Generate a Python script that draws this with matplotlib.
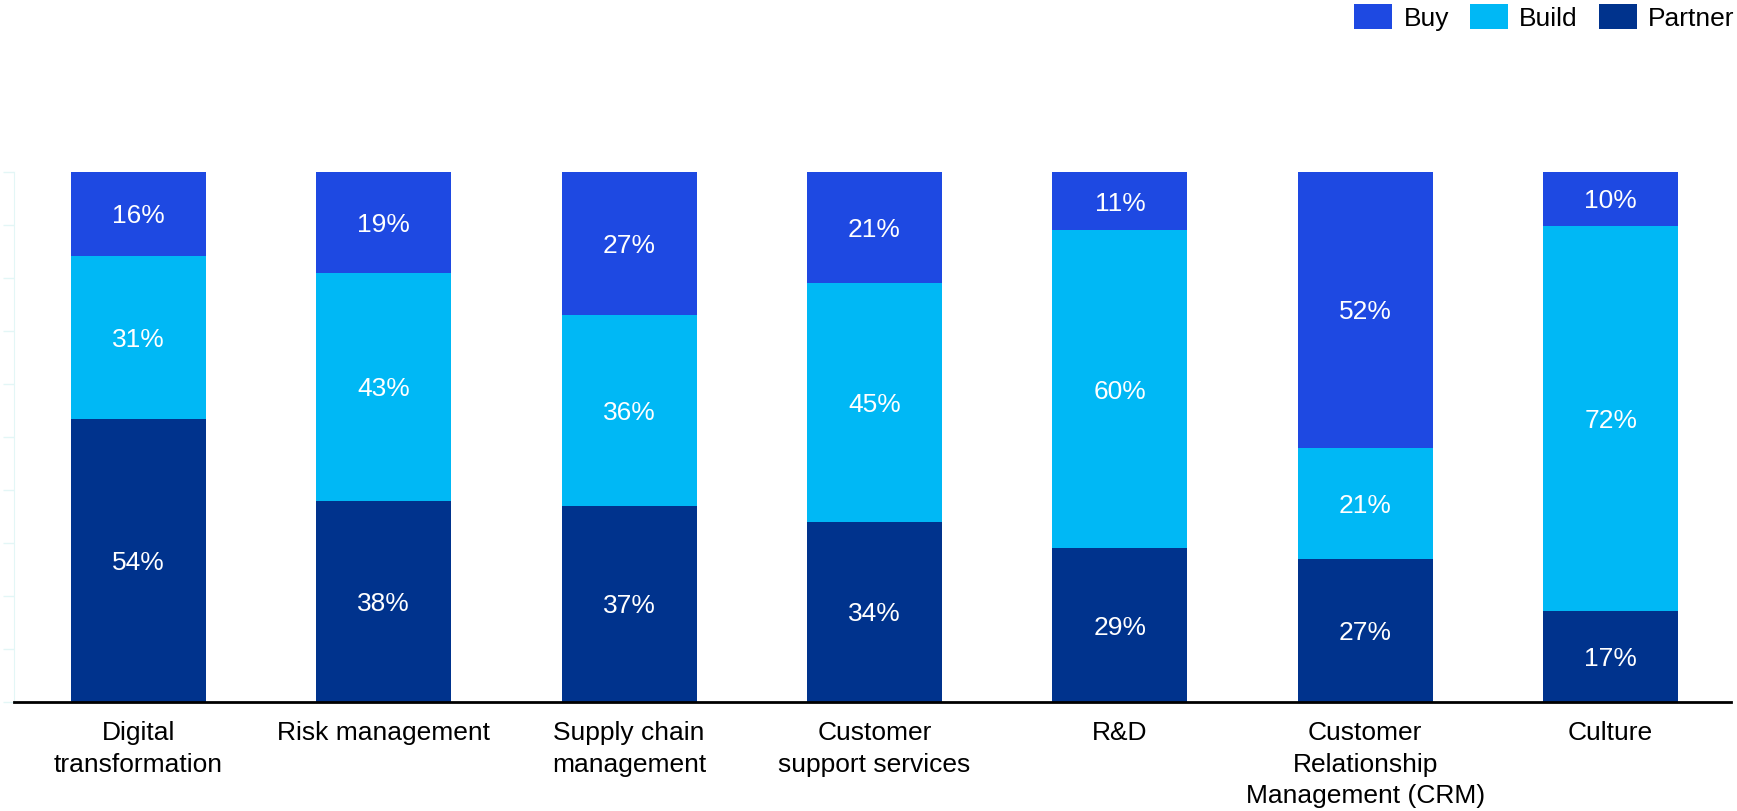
import matplotlib.pyplot as plt
import numpy as np

plt.rcParams['font.family'] = ['Liberation Sans', 'DejaVu Sans']

categories = [
    "Digital\ntransformation",
    "Risk management",
    "Supply chain\nmanagement",
    "Customer\nsupport services",
    "R&D",
    "Customer\nRelationship\nManagement (CRM)",
    "Culture",
]
buy = [16, 19, 27, 21, 11, 52, 10]
build = [31, 43, 36, 45, 60, 21, 72]
partner = [54, 38, 37, 34, 29, 27, 17]

series = [("Partner", partner, "#00338d"),
          ("Build", build, "#00b8f5"),
          ("Buy", buy, "#1e49e2")]

# each column is shown as a 100% stack
totals = np.array(buy) + np.array(build) + np.array(partner)

fig = plt.figure(figsize=(17.37, 8.11), dpi=100)
ax = fig.add_axes([0.0083, 0.1344, 0.9882, 0.6535])

x = np.arange(len(categories))
bottom = np.zeros(len(categories))
handles = {}
for name, vals, color in series:
    h = np.array(vals) / totals * 100
    bars = ax.bar(x, h, 0.55, bottom=bottom, color=color, label=name)
    handles[name] = bars
    for xi, b, hi, v in zip(x, bottom, h, vals):
        ax.text(xi, b + hi / 2, f"{v}%", ha="center", va="center_baseline",
                color="white", fontsize=19)
    bottom += h

ax.set_xlim(-0.505, 6.49)
ax.set_ylim(0, 100)
ax.set_yticks(np.arange(0, 101, 10))
ax.set_yticklabels([])
ax.tick_params(axis="y", length=8, width=1, color="#e3f6f6", direction="out")
ax.set_xticks(x)
ax.set_xticklabels(categories, fontsize=19, linespacing=1.38)
ax.tick_params(axis="x", length=0, pad=14)

for s in ["top", "right"]:
    ax.spines[s].set_visible(False)
ax.spines["left"].set_color("#e3f6f6")
ax.spines["bottom"].set_linewidth(2)
ax.spines["bottom"].set_color("black")

fig.legend([handles["Buy"], handles["Build"], handles["Partner"]],
           ["Buy", "Build", "Partner"], loc="upper right",
           bbox_to_anchor=(0.9985, 0.995), ncol=3, frameon=False,
           fontsize=19, handlelength=1.44, handleheight=1.1,
           handletextpad=0.42, columnspacing=0.8, borderpad=0,
           borderaxespad=0)

plt.savefig("out.png", dpi=100)
